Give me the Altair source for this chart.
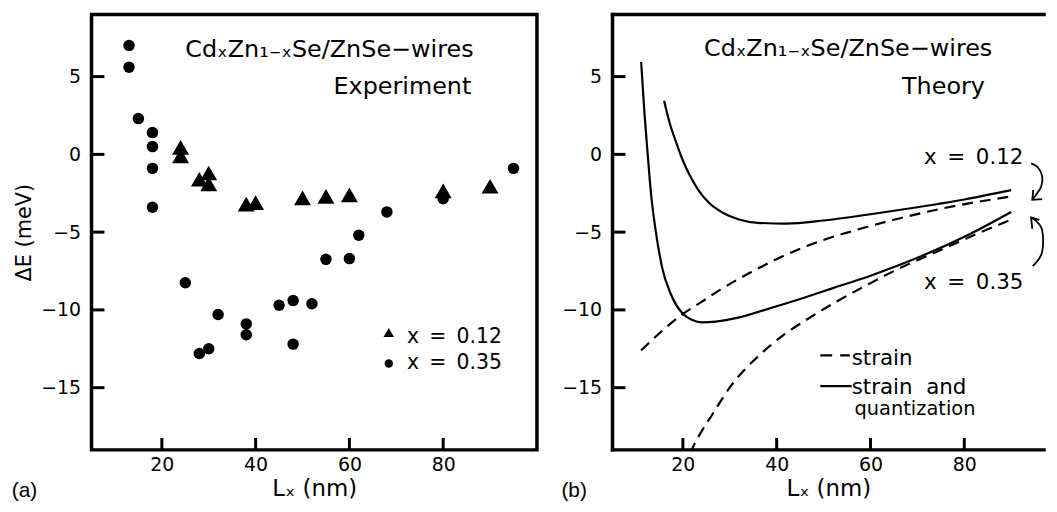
import altair as alt
import pandas as pd

FONT = "DejaVu Sans"

# ---------------- panel (a): experiment ----------------
tri_x = [24, 24, 28, 30, 30, 38, 40, 50, 55, 60, 80, 90]
tri_y = [0.45, -0.1, -1.6, -1.2, -1.9, -3.2, -3.1, -2.8, -2.7, -2.6, -2.35, -2.05]
cir_x = [13, 13, 15, 18, 18, 18, 18, 25, 28, 30, 32, 38, 38, 45, 48, 48, 52, 55, 60, 62, 68, 80, 95]
cir_y = [7.0, 5.6, 2.3, 1.4, 0.5, -0.9, -3.4, -8.25, -12.8, -12.5, -10.3, -10.9, -11.6,
         -9.7, -9.4, -12.2, -9.6, -6.75, -6.7, -5.2, -3.7, -2.85, -0.9]

# ---------------- panel (b): theory ----------------
# strain and quantization, x = 0.12
sq12_x = [16.0, 17.2, 18.5, 19.8, 21.3, 23.2, 25.5, 28.5, 31.8, 36, 42, 50, 60, 70, 80, 90]
sq12_y = [3.44, 2.0, 0.83, -0.25, -1.25, -2.25, -3.1, -3.75, -4.17, -4.4, -4.45, -4.25, -3.85, -3.4, -2.9, -2.3]
# strain only, x = 0.12
s12_x = [11.1, 15, 19.8, 23.4, 28, 35, 42, 50, 56.5, 65, 75, 90]
s12_y = [-12.6, -11.5, -10.3, -9.6, -8.7, -7.5, -6.45, -5.5, -4.9, -4.2, -3.5, -2.7]
# strain and quantization, x = 0.35
sq35_x = [11.1, 11.8, 12.5, 13.2, 14.25, 15.6, 17.4, 19.85, 22, 24.1, 27, 31.8, 38, 45, 52, 60, 70, 80, 90]
sq35_y = [5.94, 2.7, 0.0, -2.5, -5.0, -7.3, -8.96, -10.2, -10.65, -10.8, -10.75, -10.5, -9.95,
          -9.3, -8.6, -7.8, -6.65, -5.3, -3.7]
# strain only, x = 0.35
s35_x = [21.6, 22.5, 24, 25.9, 28, 30.2, 33, 36, 41.5, 46, 52, 58, 65, 74.6, 82, 90]
s35_y = [-19.2, -18.6, -17.8, -16.9, -15.9, -14.9, -13.9, -13.0, -11.6, -10.7, -9.6, -8.6, -7.5, -6.2, -5.2, -4.2]

# curved annotation arrows (panel b)
arr1_x = [94.25, 95.6, 96.6, 96.4, 95.3, 94.5]
arr1_y = [-0.58, -0.81, -1.42, -2.06, -2.6, -2.92]
head1_x = [94.7, 94.5, 96.6]
head1_y = [-2.29, -2.92, -2.88]
arr2_x = [94.6, 96.4, 96.8, 96.4, 95.3, 94.25]
arr2_y = [-7.19, -6.46, -5.42, -4.69, -4.27, -4.06]
head2_x = [96.0, 94.25, 94.5]
head2_y = [-4.21, -4.06, -4.79]

TICK_X = [20, 40, 60, 80]
TICK_Y = [5, 0, -5, -10, -15]

TITLE = "Cd\u2093Zn\u2081\u208b\u2093Se/ZnSe\u2212wires"
XTITLE = "L\u2093 (nm)"
YTITLE = "\u0394E (meV)"
X12 = "x\u2002=\u20020.12"
X35 = "x\u2002=\u20020.35"

W1, W2, H = 448, 434, 438
XD1 = [5, 100]
XD2 = [5, 97]
YD = [-19, 9]


def sx(dom):
    return alt.Scale(domain=dom, nice=False, zero=False)


SY = alt.Scale(domain=YD, nice=False, zero=False)

LAB = dict(labelFont=FONT, labelFontSize=19, labelColor="black", grid=False, ticks=False,
           tickSize=0, domain=False)
TIT = dict(titleFont=FONT, titleFontWeight="normal", titleColor="black")


def xaxis():
    return alt.Axis(values=TICK_X, labelPadding=6, labelFlush=False, title=XTITLE,
                    titleFontSize=23, titlePadding=3, **LAB, **TIT)


def yaxis(title):
    kw = dict(values=TICK_Y, labelPadding=11, labelFlush=False, **LAB, **TIT)
    if title:
        kw.update(title=title, titleFontSize=21, titlePadding=6)
    else:
        kw.update(title=None)
    return alt.Axis(**kw)


def enc(dom, xax=alt.Undefined, yax=alt.Undefined):
    return dict(x=alt.X("x:Q", scale=sx(dom), axis=xax), y=alt.Y("y:Q", scale=SY, axis=yax))


def text_layer(xs, ys, texts, dom, align, baseline, size, font=FONT):
    df = pd.DataFrame({"x": xs, "y": ys, "t": texts})
    return alt.Chart(df).mark_text(align=align, baseline=baseline, fontSize=size, font=font,
                                   color="black").encode(text="t:N", **enc(dom))


def lines_layer(series, dom, dash=None, interp="monotone", width=2.2, ordered=False, clip=True,
                xax=alt.Undefined, yax=alt.Undefined):
    rows = []
    for k, (xs, ys) in enumerate(series):
        for i, (a, b) in enumerate(zip(xs, ys)):
            rows.append({"x": a, "y": b, "s": k, "i": i})
    df = pd.DataFrame(rows)
    mk = dict(color="black", strokeWidth=width, interpolate=interp, clip=clip)
    if dash:
        mk["strokeDash"] = dash
    e = dict(detail="s:N", **enc(dom, xax, yax))
    if ordered:
        e["order"] = alt.Order("i:Q")
    return alt.Chart(df).mark_line(**mk).encode(**e)


def tick_layers(dom):
    ydf = pd.DataFrame({"y": TICK_Y})
    xdf = pd.DataFrame({"x": TICK_X})
    yt = alt.Chart(ydf).mark_rule(color="black", strokeWidth=3).encode(
        y=alt.Y("y:Q", scale=SY), x=alt.value(0), x2=alt.value(13))
    xt = alt.Chart(xdf).mark_rule(color="black", strokeWidth=3).encode(
        x=alt.X("x:Q", scale=sx(dom)), y=alt.value(H), y2=alt.value(H - 12))
    return [yt, xt]


# ---------------- build panel (a) ----------------
cir_df = pd.DataFrame({"x": cir_x, "y": cir_y})
tri_df = pd.DataFrame({"x": tri_x, "y": tri_y})

a_circles = alt.Chart(cir_df).mark_circle(size=133, color="black", opacity=1).encode(
    **enc(XD1, xaxis(), yaxis(YTITLE)))
a_tris = alt.Chart(tri_df).mark_point(shape="triangle-up", filled=True, size=289, color="black",
                                      opacity=1).encode(**enc(XD1))

leg_tri = alt.Chart(pd.DataFrame({"x": [68.4], "y": [-11.45]})).mark_point(
    shape="triangle-up", filled=True, size=110, color="black", opacity=1).encode(**enc(XD1))
leg_cir = alt.Chart(pd.DataFrame({"x": [68.4], "y": [-13.45]})).mark_circle(
    size=71, color="black", opacity=1).encode(**enc(XD1))

a_layers = [a_circles, a_tris, leg_tri, leg_cir]
a_layers += tick_layers(XD1)
a_layers += [
    text_layer([25.0], [6.29], [TITLE], XD1, "left", "alphabetic", 24),
    text_layer([86.0], [3.89], ["Experiment"], XD1, "right", "alphabetic", 24),
    text_layer([72.3, 72.3], [-12.15, -13.78], [X12, X35], XD1, "left", "alphabetic", 20.5),
    text_layer([-12.0], [-22.0], ["(a)"], XD1, "left", "alphabetic", 21, "Liberation Sans"),
]
left = alt.layer(*a_layers).properties(width=W1, height=H)

# ---------------- build panel (b) ----------------
b_solid = lines_layer([(sq12_x, sq12_y), (sq35_x, sq35_y)], XD2, xax=xaxis(), yax=yaxis(None))
b_dash = lines_layer([(s12_x, s12_y), (s35_x, s35_y)], XD2, dash=[11, 7])
b_arrows = lines_layer([(arr1_x, arr1_y), (arr2_x, arr2_y)], XD2, interp="catmull-rom",
                       width=1.8, ordered=True, clip=False)
b_heads = lines_layer([(head1_x, head1_y), (head2_x, head2_y)], XD2, interp="linear",
                      width=1.8, ordered=True, clip=False)
leg_dash = lines_layer([([49.3, 55.6], [-12.92, -12.92])], XD2, dash=[12, 8], interp="linear")
leg_solid = lines_layer([([49.3, 56.0], [-14.9, -14.9])], XD2, interp="linear")

# open-right frame of panel (b): top, bottom and left edges at the scale domain limits
edge_h = alt.Chart(pd.DataFrame({"y": [YD[1], YD[0]]})).mark_rule(
    color="black", strokeWidth=3.5, strokeCap="square").encode(
    y=alt.Y("y:Q", scale=SY), x=alt.value(0), x2=alt.value(W2))
edge_v = alt.Chart(pd.DataFrame({"x": [XD2[0]]})).mark_rule(
    color="black", strokeWidth=3.5, strokeCap="square").encode(
    x=alt.X("x:Q", scale=sx(XD2)), y=alt.value(0), y2=alt.value(H))

b_layers = [b_solid, b_dash, b_arrows, b_heads, leg_dash, leg_solid, edge_h, edge_v]
b_layers += tick_layers(XD2)
b_layers += [
    text_layer([24.5], [6.3], [TITLE], XD2, "left", "alphabetic", 24),
    text_layer([84.4], [3.9], ["Theory"], XD2, "right", "alphabetic", 24),
    text_layer([71.4, 71.4], [-0.625, -8.65], [X12, X35], XD2, "left", "alphabetic", 21.5),
    text_layer([56.0, 56.0], [-13.54, -15.4], ["strain", "strain\u00a0\u00a0and"], XD2,
               "left", "alphabetic", 21.5),
    text_layer([56.6], [-16.75], ["quantization"], XD2, "left", "alphabetic", 19.5),
    text_layer([-5.9], [-22.0], ["(b)"], XD2, "left", "alphabetic", 21, "Liberation Sans"),
]
right = alt.layer(*b_layers).properties(
    width=W2, height=H, view=alt.ViewBackground(stroke="transparent")
)

chart = alt.hconcat(left, right, spacing=20).properties(
    padding={"left": 2, "top": 0, "right": 0, "bottom": 0}
).configure(font=FONT).configure_view(stroke="black", strokeWidth=3.5)

chart.save("out.html", embed_options={"renderer": "svg", "actions": False})
